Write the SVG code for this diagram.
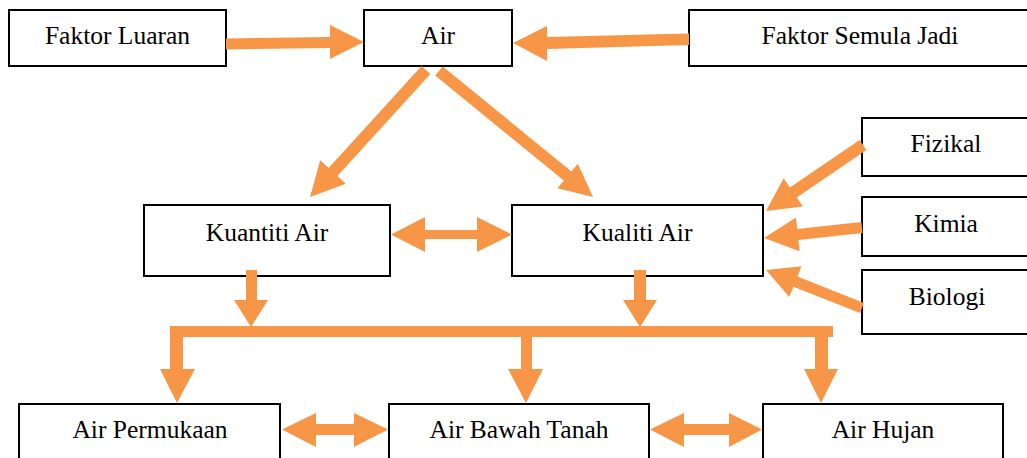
<svg xmlns="http://www.w3.org/2000/svg" width="1027" height="458" viewBox="0 0 1027 458">
<style>
.box{fill:#fff;stroke:#000;stroke-width:2}
.t{font-size:25.5px;fill:#000;text-anchor:middle}
.a{fill:#F79646;stroke:none}
</style>
<rect x="0" y="0" width="1027" height="458" fill="#fff"/>
<g font-family="'Liberation Serif', serif">
<g id="node-faktor-luaran"><rect class="box" x="9" y="10" width="217" height="56"/><text class="t" x="117.5" y="44">Faktor Luaran</text></g>
<g id="node-air"><rect class="box" x="364" y="10" width="148" height="56"/><text class="t" x="438" y="44">Air</text></g>
<g id="node-faktor-semula-jadi"><rect class="box" x="689" y="10" width="342" height="56"/><text class="t" x="860" y="44">Faktor Semula Jadi</text></g>
<g id="node-fizikal"><rect class="box" x="862" y="118" width="169" height="58"/><text class="t" x="946" y="152">Fizikal</text></g>
<g id="node-kimia"><rect class="box" x="862" y="197" width="169" height="59"/><text class="t" x="946" y="232">Kimia</text></g>
<g id="node-biologi"><rect class="box" x="862" y="270" width="169" height="64"/><text class="t" x="947" y="305">Biologi</text></g>
<g id="node-kuantiti-air"><rect class="box" x="144" y="205" width="246" height="71"/><text class="t" x="267" y="241">Kuantiti Air</text></g>
<g id="node-kualiti-air"><rect class="box" x="512" y="205" width="251" height="71"/><text class="t" x="637.5" y="241">Kualiti Air</text></g>
<g id="node-air-permukaan"><rect class="box" x="19" y="404" width="261" height="70"/><text class="t" x="150" y="438">Air Permukaan</text></g>
<g id="node-air-bawah-tanah"><rect class="box" x="389" y="404" width="260" height="70"/><text class="t" x="519" y="438">Air Bawah Tanah</text></g>
<g id="node-air-hujan"><rect class="box" x="763" y="404" width="240" height="70"/><text class="t" x="883" y="438">Air Hujan</text></g>
</g>
<g id="connectors">
<polygon class="a" points="226,38.5 330,37 330,25 364,42 330,59 330,48 226,49.5"/>
<polygon class="a" points="689,33.5 547,37 547,26 513,43 547,61 547,49 689,45"/>
<polygon class="a" points="421.6,66 328.6,168 320.2,160.3 310,197 345.8,183.7 337.4,176 430.4,74"/>
<polygon class="a" points="442.8,66.4 571.4,171.4 577.8,163.7 593,197 557.4,188.3 563.8,180.6 435.2,75.6"/>
<polygon class="a" points="859.6,140 789.9,187.4 783.7,178.3 766,211 802.9,206.5 796.7,197.4 866.4,150"/>
<polygon class="a" points="861.4,222 797.2,228.9 796,217.5 764,238 799.6,251.3 798.4,239.9 862.6,233"/>
<polygon class="a" points="864,302.9 797.4,276.5 801.5,266.3 766,270 789.3,296.9 793.4,286.7 860,313.1"/>
<polygon class="a" points="391,234.5 425,217 425,230 477,230 477,217 512,234.5 477,252 477,239 425,239 425,252"/>
<polygon class="a" points="246,270 257,270 257,300 268,300 251,327 234,300 246,300"/>
<polygon class="a" points="634,270 646,270 646,300 657,300 640,327 623,300 634,300"/>
<rect class="a" x="170" y="326" width="663" height="11"/>
<polygon class="a" points="170,337 183,337 183,369 195,369 177,403 160,369 170,369"/>
<polygon class="a" points="521,337 532,337 532,369 543,369 526,403 508,369 521,369"/>
<polygon class="a" points="815,337 828,337 828,369 838,369 821,403 804,369 815,369"/>
<polygon class="a" points="282,429.5 316,413 316,424 354,424 354,413 388,429.5 354,447 354,435 316,435 316,447"/>
<polygon class="a" points="650,429.5 684,413 684,424 729,424 729,413 762,429.5 729,447 729,435 684,435 684,447"/>
</g>
</svg>
